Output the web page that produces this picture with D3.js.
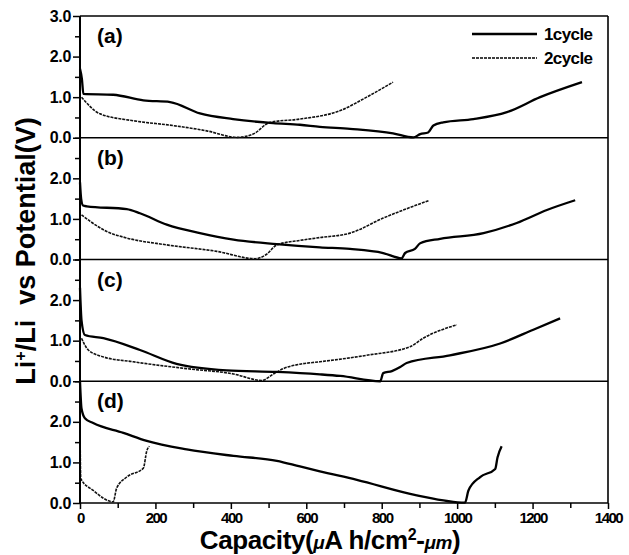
<!DOCTYPE html>
<html>
<head>
<meta charset="utf-8">
<script src="https://cdn.jsdelivr.net/npm/d3@7"></script>
<style>
  body { margin: 0; background: #fff; }
  text { font-family: "Liberation Sans", Arial, sans-serif; font-weight: bold; fill: #000; }
</style>
</head>
<body>
<div id="chart"></div>
<script>
// capacity (uAh/cm2-um), potential (V)
var panelNames = ['(a)', '(b)', '(c)', '(d)'];
var seriesNames = ['1cycle', '2cycle'];
var xTicks = [0, 200, 400, 600, 800, 1000, 1200, 1400];
var yTicks = [0, 1, 2, 3];

var a1 = [[0,1.7],[5,1.45],[9,1.08],[88,1.06],[168,0.92],[239,0.88],[318,0.6],[406,0.46],[512,0.36],[583,0.32],[636,0.27],[716,0.22],[830,0.11],[884,0.01],
          [902,0.09],[923,0.13],[937,0.3],[963,0.38],[1043,0.46],[1132,0.63],[1220,1.0],[1331,1.37]];
var a2 = [[4,1.0],[53,0.59],[141,0.42],[247,0.3],[336,0.17],[416,0.01],
          [459,0.09],[504,0.38],[583,0.46],[690,0.67],[760,1.0],[830,1.37]];

var b1 = [[0,1.9],[3,1.5],[8,1.33],[18,1.31],[124,1.24],[159,1.14],[230,0.86],[318,0.65],[407,0.49],[522,0.38],[636,0.3],[716,0.26],[804,0.16],[853,0.03],
          [862,0.16],[888,0.26],[902,0.4],[955,0.51],[1070,0.65],[1158,0.9],[1238,1.22],[1313,1.46]];
var b2 = [[4,1.1],[27,0.94],[71,0.69],[124,0.53],[230,0.36],[363,0.2],[464,0.02],
          [495,0.13],[522,0.36],[583,0.47],[636,0.54],[716,0.65],[804,1.02],[924,1.45]];

var c1 = [[0,2.3],[4,1.5],[13,1.14],[62,1.06],[159,0.77],[256,0.43],[389,0.27],[522,0.23],[636,0.17],[690,0.13],[796,0.0],
          [804,0.2],[827,0.25],[849,0.35],[866,0.45],[981,0.64],[1114,0.93],[1202,1.27],[1273,1.55]];
var c2 = [[4,1.06],[22,0.77],[62,0.6],[141,0.48],[283,0.31],[407,0.18],[482,0.02],
          [513,0.18],[539,0.31],[583,0.42],[636,0.48],[760,0.64],[875,0.85],[910,1.06],[999,1.39]];

var d1 = [[0,3.0],[4,2.33],[13,2.09],[35,1.97],[115,1.73],[177,1.53],[283,1.32],[407,1.16],[522,1.04],[583,0.9],[636,0.78],[734,0.57],[893,0.19],[1021,0.01],
          [1030,0.31],[1061,0.64],[1101,0.84],[1107,1.12],[1118,1.4]];
var d2 = [[0,1.9],[2,0.6],[35,0.31],[88,0.03],
          [97,0.36],[124,0.64],[168,0.86],[177,1.28],[184,1.4]];

var panels = [[a1, a2], [b1, b2], [c1, c2], [d1, d2]];

var dim = { width: 629, height: 555, left: 80, right: 608, top: 16, bottom: 503 };
var panelH = (dim.bottom - dim.top) / panels.length;

var svg = d3.select('#chart').append('svg')
    .attr('width', dim.width)
    .attr('height', dim.height);

var xScale = d3.scaleLinear()
    .domain([0, 1400])
    .range([dim.left, dim.right]);

var line = d3.line()
    .x(d => xScale(d[0]))
    .curve(d3.curveMonotoneX);

panels.forEach(function(series, i) {
    var top = dim.top + i * panelH;
    var yScale = d3.scaleLinear().domain([0, 3]).range([top + panelH, top]);

    // panel bottom line
    svg.append('line')
        .attr('x1', dim.left).attr('x2', dim.right)
        .attr('y1', yScale(0)).attr('y2', yScale(0))
        .attr('stroke', '#000').attr('stroke-width', 1.6);

    // minor ticks
    var yAxisMinor = d3.axisLeft(yScale).tickValues([0.5, 1.5, 2.5]).tickSize(5).tickFormat('');
    svg.append('g').attr('transform', `translate(${dim.left},0)`).call(yAxisMinor);

    var labels = i === 0 ? yTicks : yTicks.slice(0, 3);
    var yAxis = d3.axisLeft(yScale).tickValues(labels).tickSize(7).tickPadding(2)
        .tickFormat(d3.format('.1f'));
    var g = svg.append('g').attr('class', 'yaxis').attr('transform', `translate(${dim.left},0)`).call(yAxis);
    g.select('.domain').remove();
    g.selectAll('text').style('font-size', '16px').attr('letter-spacing', '-0.3');

    var lineP = line.y(d => yScale(d[1]));

    svg.append('path')
        .datum(series[1])
        .attr('d', lineP)
        .attr('fill', 'none')
        .attr('stroke', '#111')
        .attr('stroke-width', 1.6)
        .attr('stroke-dasharray', '3,1');

    svg.append('path')
        .datum(series[0])
        .attr('d', lineP)
        .attr('fill', 'none')
        .attr('stroke', '#000')
        .attr('stroke-width', 2.3);

    svg.append('text')
        .attr('x', 97)
        .attr('y', top + 27)
        .style('font-size', '21px')
        .text(panelNames[i]);
});

// top and right borders, left axis line
svg.append('line').attr('x1', dim.left).attr('x2', dim.right).attr('y1', dim.top).attr('y2', dim.top)
    .attr('stroke', '#000').attr('stroke-width', 1.6);
svg.append('line').attr('x1', dim.right).attr('x2', dim.right).attr('y1', dim.top).attr('y2', dim.bottom)
    .attr('stroke', '#000').attr('stroke-width', 1.6);
svg.append('line').attr('x1', dim.left).attr('x2', dim.left).attr('y1', dim.top).attr('y2', dim.bottom)
    .attr('stroke', '#000').attr('stroke-width', 2);

// x axis
var xMinor = d3.axisBottom(xScale).tickValues(d3.range(100, 1400, 200)).tickSize(5).tickFormat('');
svg.append('g').attr('transform', `translate(0,${dim.bottom})`).call(xMinor).select('.domain').remove();
var xAxis = d3.axisBottom(xScale).tickValues(xTicks).tickSize(6).tickPadding(3).tickFormat(d3.format('d'));
var gx = svg.append('g').attr('transform', `translate(0,${dim.bottom})`).call(xAxis);
gx.select('.domain').remove();
gx.selectAll('text').style('font-size', '15px').attr('letter-spacing', '-1.5');

svg.selectAll('.tick line').attr('stroke', '#000').attr('stroke-width', 1.5);

// legend
seriesNames.forEach(function(name, i) {
    var y = 34 + i * 24;
    svg.append('line')
        .attr('x1', 472).attr('x2', 537).attr('y1', y).attr('y2', y)
        .attr('stroke', '#000')
        .attr('stroke-width', i === 0 ? 2.3 : 1.6)
        .attr('stroke-dasharray', i === 0 ? null : '3,1');
    svg.append('text')
        .attr('x', 544).attr('y', y + 6)
        .style('font-size', '17px')
        .attr('letter-spacing', '-0.6')
        .text(name);
});

// axis titles
svg.append('text')
    .attr('transform', 'translate(35,251) rotate(-90)')
    .attr('text-anchor', 'middle')
    .style('font-size', '27px')
    .style('white-space', 'pre')
    .html('Li<tspan dy="-9" font-size="16">+</tspan><tspan dy="9">/Li  vs Potential(V)</tspan>');

svg.append('text')
    .attr('x', 330).attr('y', 549)
    .attr('text-anchor', 'middle')
    .style('font-size', '26px')
    .attr('letter-spacing', '-0.4')
    .html('Capacity(<tspan font-style="italic" font-size="19">μ</tspan>A h/cm<tspan dy="-9" font-size="16">2</tspan><tspan dy="9">-</tspan><tspan font-style="italic" font-size="19">μm</tspan>)');
</script>
</body>
</html>
